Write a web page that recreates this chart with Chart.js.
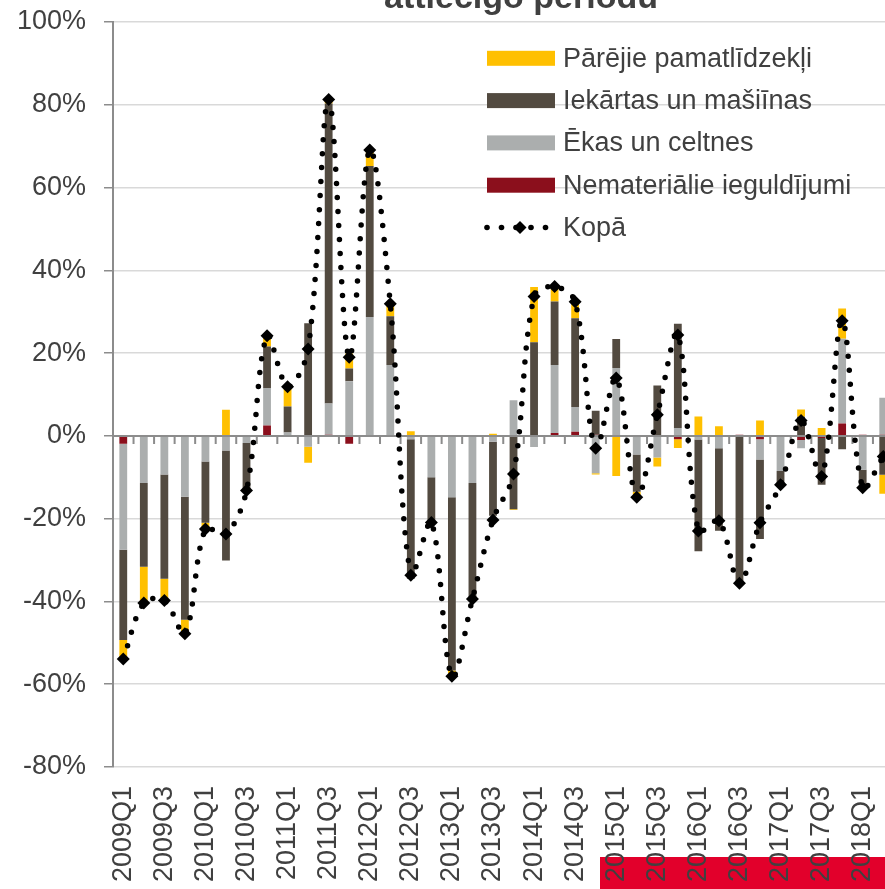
<!DOCTYPE html>
<html>
<head>
<meta charset="utf-8">
<script src="https://cdn.jsdelivr.net/npm/chart.js@4"></script>
<style>
  html, body { margin: 0; padding: 0; background: #fff; overflow: hidden; }
  #wrap { position: relative; width: 900px; height: 889px; }
  #band { position: absolute; left: 600px; top: 857px; width: 300px; height: 32px; background: #e2002b; }
  #box { position: absolute; left: 0; top: 0; width: 900px; height: 889px; }
</style>
</head>
<body>
<div id="wrap">
  <div id="band"></div>
  <div id="box"><canvas id="Chart1"></canvas></div>
</div>
<script>
const quarters = [
  "2009Q1", "2009Q2", "2009Q3", "2009Q4", "2010Q1", "2010Q2", "2010Q3", "2010Q4",
  "2011Q1", "2011Q2", "2011Q3", "2011Q4", "2012Q1", "2012Q2", "2012Q3", "2012Q4",
  "2013Q1", "2013Q2", "2013Q3", "2013Q4", "2014Q1", "2014Q2", "2014Q3", "2014Q4",
  "2015Q1", "2015Q2", "2015Q3", "2015Q4", "2016Q1", "2016Q2", "2016Q3", "2016Q4",
  "2017Q1", "2017Q2", "2017Q3", "2017Q4", "2018Q1", "2018Q2"
]
// percent change vs same period of previous year
const nemater = [
  -1.9, 0.2, 0, 0, 0, 0, 0, 2.5, 0, 0, 0.3, -1.9, 0, 0, 0, 0.2, 0.2, 0, 0,
  0.2, 0, 0.7, 1.0, 0.3, 0, 0, 0, -0.8, 0, 0, 0.3, -0.8, 0, -1.0, -0.5, 3.0, 0.3, 0.3
]
const ekas = [
  -25.6, -11.4, -9.3, -14.7, -6.2, -3.5, -1.7, 9.1, 0.8, -2.6, 7.5, 13.2, 28.7, 17.1, -0.8, -10.0, -14.8, -11.4, -1.4,
  8.4, -2.7, 16.4, 6.0, -9.0, 16.4, -4.5, -5.2, 1.9, -0.9, -3.0, 0, -4.9, -8.5, -2.0, 0, 20.5, -8.2, 8.9
]
const iekartas = [
  -21.8, -20.2, -25.2, -29.7, -14.8, -26.6, -11.5, 10.0, 6.3, 27.2, 72.5, 3.1, 36.5, 11.8, -33.7, -10.9, -41.9, -27.6, -17.9,
  -17.7, 22.6, 15.4, 21.4, 5.8, 7.0, -9.0, 12.2, 25.2, -27.0, -19.9, -35.9, -19.2, -3.3, 4.6, -11.3, -3.2, -3.7, -9.4
]
const parejie = [
  -4.6, -8.8, -5.3, -3.4, -1.5, 6.3, 0, 2.6, 4.8, -3.9, 1.0, 3.6, 3.7, 3.0, 1.1, 0, -1.4, 0, 0.5,
  -0.2, 13.4, 3.3, 3.9, -0.3, -9.7, -1.3, -2.2, -2.1, 4.7, 2.3, 0, 3.7, 0, 1.8, 1.9, 7.3, 0, -4.6
]
const kopa = [
  -53.9, -40.4, -39.8, -47.8, -22.5, -23.7, -13.2, 24.2, 11.9, 21.0, 81.3, 19.0, 69.1, 31.9, -33.7, -20.9, -58.1, -39.4, -20.3,
  -9.2, 33.7, 36.1, 32.4, -3.0, 14.0, -14.8, 5.1, 24.4, -23.0, -20.5, -35.6, -21.0, -11.8, 3.7, -9.8, 27.8, -12.5, -5.0
]
const yTicks = [-80, -60, -40, -20, 0, 20, 40, 60, 80, 100]

const FONT = '"Liberation Sans", Arial, sans-serif'
const TXT = '#404040'
const AXIS = '#8c8c8c'

const colYellow = '#ffc000'
const colDark = '#524a40'
const colGrey = '#abaeae'
const colRed = '#8b0f1c'

Chart.defaults.font.family = FONT
Chart.defaults.color = TXT

// legend drawn inside the plot, top right
const legendRows = [
  { text: 'Pārējie pamatlīdzekļi', color: colYellow },
  { text: 'Iekārtas un mašiīnas', color: colDark },
  { text: 'Ēkas un celtnes', color: colGrey },
  { text: 'Nemateriālie ieguldījumi', color: colRed },
  { text: 'Kopā', line: true }
]

function diamond(ctx, x, y, r) {
  ctx.beginPath()
  ctx.moveTo(x, y - r)
  ctx.lineTo(x + r, y)
  ctx.lineTo(x, y + r)
  ctx.lineTo(x - r, y)
  ctx.closePath()
  ctx.fill()
}

const extras = {
  id: 'extras',
  beforeDatasetDraw(chart, args) {
    if (args.meta.type !== 'line') return
    // zero axis over the bars, with small ticks between categories
    const ctx = chart.ctx
    const xs = chart.scales.x
    const y0 = chart.scales.y.getPixelForValue(0)
    const step = xs.getPixelForValue(1) - xs.getPixelForValue(0)
    ctx.save()
    ctx.strokeStyle = AXIS
    ctx.lineWidth = 2
    ctx.beginPath()
    ctx.moveTo(chart.chartArea.left, y0)
    ctx.lineTo(chart.chartArea.right, y0)
    for (let i = 0; i <= quarters.length; i++) {
      const x = xs.getPixelForValue(i) - step / 2
      ctx.moveTo(x, y0)
      ctx.lineTo(x, y0 + 8)
    }
    ctx.stroke()
    ctx.restore()
  },
  afterDraw(chart) {
    const ctx = chart.ctx
    const a = chart.chartArea
    ctx.save()
    // title (only its lower part is in view)
    ctx.fillStyle = TXT
    ctx.font = 'bold 34px ' + FONT
    ctx.textAlign = 'center'
    ctx.textBaseline = 'alphabetic'
    ctx.fillText('attiecīgo periodu', a.left + 408, a.top - 14.5)

    const x0 = a.left + 374
    let y = a.top + 36.3
    ctx.font = '27px ' + FONT
    ctx.textAlign = 'left'
    ctx.textBaseline = 'middle'
    legendRows.forEach(function (row) {
      if (row.line) {
        ctx.fillStyle = '#000'
        ;[0, 14.5, 29, 44, 58.5].forEach(function (dx) {
          ctx.beginPath()
          ctx.arc(x0 + dx, y, 2.8, 0, Math.PI * 2)
          ctx.fill()
        })
        diamond(ctx, x0 + 33, y, 6.5)
      } else {
        ctx.fillStyle = row.color
        ctx.fillRect(x0, y - 7.5, 68, 15)
      }
      ctx.fillStyle = TXT
      ctx.fillText(row.text, x0 + 76, y + 1)
      y += 42.3
    })
    ctx.restore()
  }
}

const barOpts = { type: 'bar', stack: 'parts', barPercentage: 0.38, categoryPercentage: 1.0, borderWidth: 0, order: 1 }

const data1 = {
  labels: quarters,
  datasets: [
    Object.assign({ label: 'Nemateriālie ieguldījumi', data: nemater, backgroundColor: colRed }, barOpts),
    Object.assign({ label: 'Ēkas un celtnes', data: ekas, backgroundColor: colGrey }, barOpts),
    Object.assign({ label: 'Iekārtas un mašiīnas', data: iekartas, backgroundColor: colDark }, barOpts),
    Object.assign({ label: 'Pārējie pamatlīdzekļi', data: parejie, backgroundColor: colYellow }, barOpts),
    {
      type: 'line',
      label: 'Kopā',
      data: kopa,
      stack: 'total',
      order: 0,
      borderColor: '#000',
      borderWidth: 5.5,
      borderDash: [0, 14],
      borderCapStyle: 'round',
      tension: 0.35,
      fill: false,
      pointStyle: 'rectRot',
      pointRadius: 6.5,
      pointBackgroundColor: '#000',
      pointBorderWidth: 0
    }
  ]
}

const config1 = {
  type: 'bar',
  data: data1,
  plugins: [extras],
  options: {
    responsive: true,
    maintainAspectRatio: false,
    animation: false,
    layout: { padding: { left: 13, top: 22, right: 4, bottom: 0 } },
    scales: {
      x: {
        stacked: true,
        offset: true,
        grid: { display: false, drawTicks: false },
        border: { display: false },
        ticks: {
          autoSkip: false,
          maxRotation: 90,
          minRotation: 90,
          padding: 19,
          color: TXT,
          font: { size: 27 },
          callback: function (v, i) { return i % 2 === 0 ? quarters[i] : '' }
        },
        afterFit: function (s) {
          s.height = 122
          s.paddingLeft = 0
          s.paddingRight = 0
        }
      },
      y: {
        stacked: true,
        min: -80,
        max: 100,
        afterBuildTicks: function (s) { s.ticks = yTicks.map(function (v) { return { value: v } }) },
        grid: { color: '#d9d9d9', lineWidth: 1.5, tickColor: AXIS, tickLength: 9 },
        border: { display: true, color: AXIS, width: 2 },
        ticks: {
          padding: 18,
          color: TXT,
          font: { size: 27 },
          callback: function (v) { return v + '%' }
        },
        afterFit: function (s) {
          s.width = 100
          s.paddingTop = 0
          s.paddingBottom = 0
        }
      }
    },
    plugins: {
      legend: { display: false },
      title: { display: false },
      tooltip: { enabled: false }
    }
  }
}

var myChart1 = new Chart(document.getElementById('Chart1'), config1)
</script>
</body>
</html>
